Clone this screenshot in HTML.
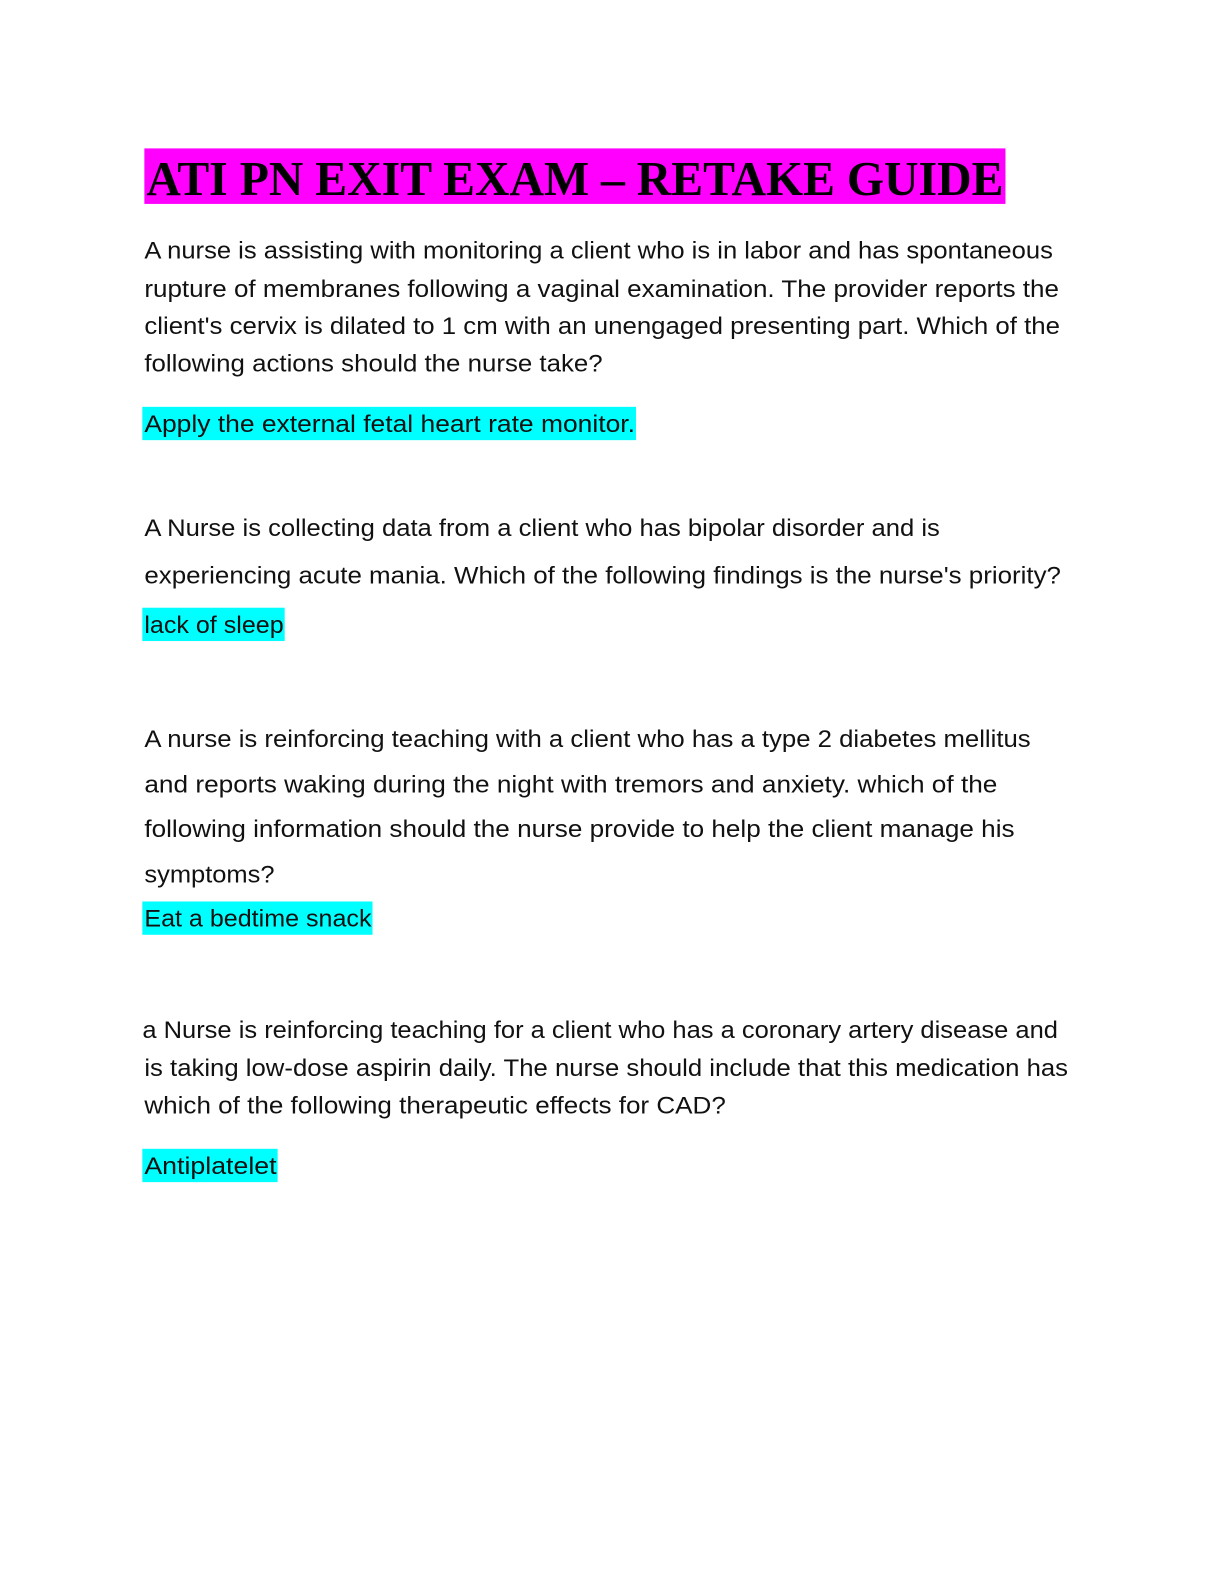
<!DOCTYPE html>
<html><head><meta charset="utf-8"><style>
html,body{margin:0;padding:0;background:#fff;width:1224px;height:1584px;overflow:hidden}
svg{display:block;position:absolute;left:0;top:0}
.b{font-family:"Liberation Sans",Arial,sans-serif;font-size:24px;fill:#111}
.t{font-family:"Liberation Serif","Times New Roman",serif;font-weight:bold;font-size:48px;fill:#000}
</style></head><body>
<svg width="1224" height="1584" viewBox="0 0 1224 1584" xmlns="http://www.w3.org/2000/svg">
<g transform="scale(1.0095)">
<rect x="143" y="147" width="853" height="55" fill="#ff00ff"/>
<text class="t" x="145" y="193" textLength="849" lengthAdjust="spacingAndGlyphs">ATI PN EXIT EXAM – RETAKE GUIDE</text>

<text class="b" x="143" y="256" textLength="900" lengthAdjust="spacingAndGlyphs">A nurse is assisting with monitoring a client who is in labor and has spontaneous</text>
<text class="b" x="143" y="294" textLength="906" lengthAdjust="spacingAndGlyphs">rupture of membranes following a vaginal examination. The provider reports the</text>
<text class="b" x="143" y="331" textLength="907" lengthAdjust="spacingAndGlyphs">client's cervix is dilated to 1 cm with an unengaged presenting part. Which of the</text>
<text class="b" x="143" y="368" textLength="454" lengthAdjust="spacingAndGlyphs">following actions should the nurse take?</text>
<rect x="141" y="403" width="489" height="33" fill="#00ffff"/>
<text class="b" x="143" y="428" textLength="486" lengthAdjust="spacingAndGlyphs">Apply the external fetal heart rate monitor.</text>

<text class="b" x="143" y="531" textLength="788" lengthAdjust="spacingAndGlyphs">A Nurse is collecting data from a client who has bipolar disorder and is</text>
<text class="b" x="143" y="578" textLength="908" lengthAdjust="spacingAndGlyphs">experiencing acute mania. Which of the following findings is the nurse's priority?</text>
<rect x="141" y="602" width="141" height="33" fill="#00ffff"/>
<text class="b" x="143" y="627" textLength="138" lengthAdjust="spacingAndGlyphs">lack of sleep</text>

<text class="b" x="143" y="740" textLength="878" lengthAdjust="spacingAndGlyphs">A nurse is reinforcing teaching with a client who has a type 2 diabetes mellitus</text>
<text class="b" x="143" y="785" textLength="845" lengthAdjust="spacingAndGlyphs">and reports waking during the night with tremors and anxiety. which of the</text>
<text class="b" x="143" y="829" textLength="862" lengthAdjust="spacingAndGlyphs">following information should the nurse provide to help the client manage his</text>
<text class="b" x="143" y="874" textLength="129" lengthAdjust="spacingAndGlyphs">symptoms?</text>
<rect x="141" y="893" width="228" height="33" fill="#00ffff"/>
<text class="b" x="143" y="918" textLength="225" lengthAdjust="spacingAndGlyphs">Eat a bedtime snack</text>

<text class="b" x="141" y="1028" textLength="907" lengthAdjust="spacingAndGlyphs">a Nurse is reinforcing teaching for a client who has a coronary artery disease and</text>
<text class="b" x="143" y="1066" textLength="915" lengthAdjust="spacingAndGlyphs">is taking low-dose aspirin daily. The nurse should include that this medication has</text>
<text class="b" x="143" y="1103" textLength="576" lengthAdjust="spacingAndGlyphs">which of the following therapeutic effects for CAD?</text>
<rect x="141" y="1138" width="134" height="33" fill="#00ffff"/>
<text class="b" x="143" y="1163" textLength="131" lengthAdjust="spacingAndGlyphs">Antiplatelet</text>
</g>
</svg>
</body></html>
